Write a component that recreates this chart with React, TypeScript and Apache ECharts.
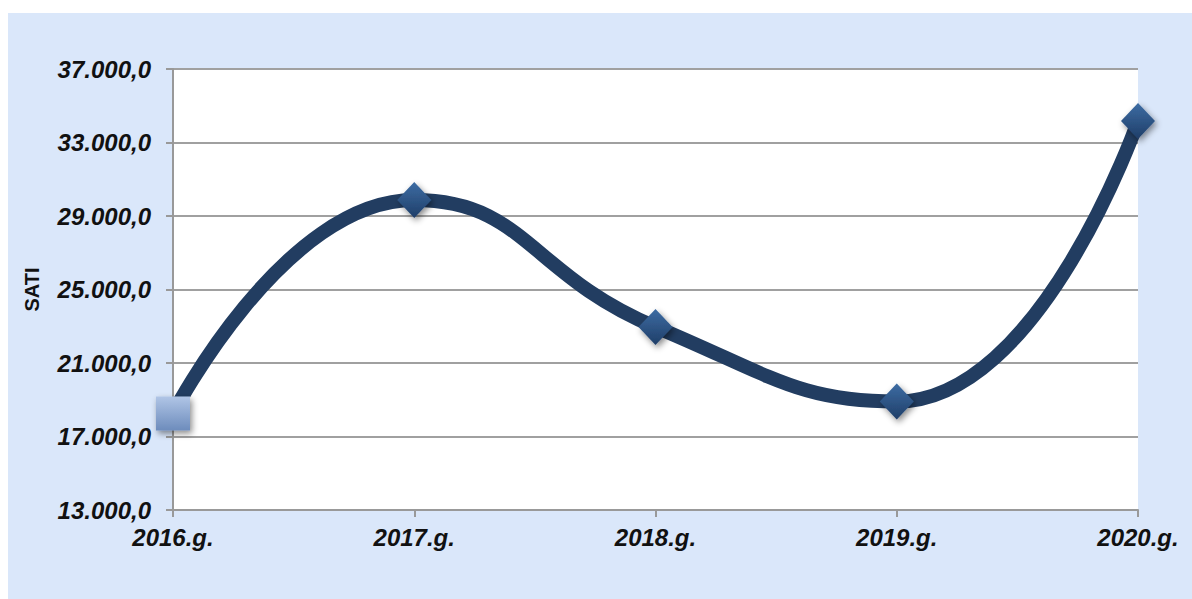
import React, { useEffect, useRef } from "react";
import * as echarts from "echarts";

const categories = ["2016.g.", "2017.g.", "2018.g.", "2019.g.", "2020.g."];
const values = [18250, 29870, 22960, 18900, 34170];
const yMin = 13000;
const yMax = 37000;
const yStep = 4000;
const axisName = "SATI";

function fmt(v: number): string {
  const s = Math.round(v).toString();
  const withDots = s.replace(/\B(?=(\d{3})+(?!\d))/g, ".");
  return withDots + ",0";
}

export default function App() {
  const ref = useRef<HTMLDivElement>(null);
  useEffect(() => {
    if (!ref.current) return;
    const chart = echarts.init(ref.current, null, { renderer: "svg" });
    const diamondStyle = {
      color: new echarts.graphic.LinearGradient(0, 0, 0, 1, [
        { offset: 0, color: "#3d6ca3" },
        { offset: 1, color: "#1f3e68" },
      ]),
      shadowBlur: 6,
      shadowColor: "rgba(0,0,0,0.45)",
      shadowOffsetX: 2,
      shadowOffsetY: 3,
    };
    const squareStyle = {
      color: new echarts.graphic.LinearGradient(0, 0, 0, 1, [
        { offset: 0, color: "#b0c5e6" },
        { offset: 1, color: "#6d8cbc" },
      ]),
      shadowBlur: 6,
      shadowColor: "rgba(0,0,0,0.45)",
      shadowOffsetX: 2,
      shadowOffsetY: 3,
    };
    const data = values.map((v, i) =>
      i === 0
        ? { value: v, symbol: "rect", symbolSize: 34, itemStyle: squareStyle }
        : { value: v, symbol: "diamond", symbolSize: [34, 36], itemStyle: diamondStyle }
    );
    const labelFont = {
      fontFamily: "Liberation Sans, Arial, sans-serif",
      fontWeight: "bold" as const,
      fontStyle: "italic" as const,
      fontSize: 24,
      color: "#111",
    };
    chart.setOption({
      animation: false,
      backgroundColor: "#dae7fa",
      grid: { left: 165, right: 54, top: 56, bottom: 89, backgroundColor: "#ffffff", show: true, borderWidth: 0 },
      xAxis: {
        type: "category",
        data: categories,
        boundaryGap: false,
        axisLine: { lineStyle: { color: "#999", width: 2 } },
        axisTick: { show: true, length: 7, inside: false, alignWithLabel: true, lineStyle: { color: "#999", width: 2 } },
        axisLabel: { ...labelFont, margin: 15 },
        splitLine: { show: false },
      },
      yAxis: {
        type: "value",
        min: yMin,
        max: yMax,
        interval: yStep,
        name: axisName,
        nameLocation: "middle",
        nameRotate: 90,
        nameGap: 131,
        nameTextStyle: { fontFamily: "Liberation Sans, Arial, sans-serif", fontWeight: "bold", fontSize: 20, color: "#111" },
        axisLine: { show: true, lineStyle: { color: "#999", width: 2 } },
        axisTick: { show: true, length: 7, lineStyle: { color: "#999", width: 2 } },
        axisLabel: { ...labelFont, margin: 22, formatter: (v: number) => fmt(v) },
        splitLine: { show: true, lineStyle: { color: "#a0a0a0", width: 2 } },
      },
      series: [
        {
          type: "line",
          data,
          smooth: 0.5,
          lineStyle: { color: "#223d61", width: 14 },
          z: 3,
        },
      ],
    });
    return () => chart.dispose();
  }, []);
  return (
    <div
      ref={ref}
      style={{ position: "absolute", left: 8, top: 13, width: 1184, height: 586 }}
    />
  );
}
